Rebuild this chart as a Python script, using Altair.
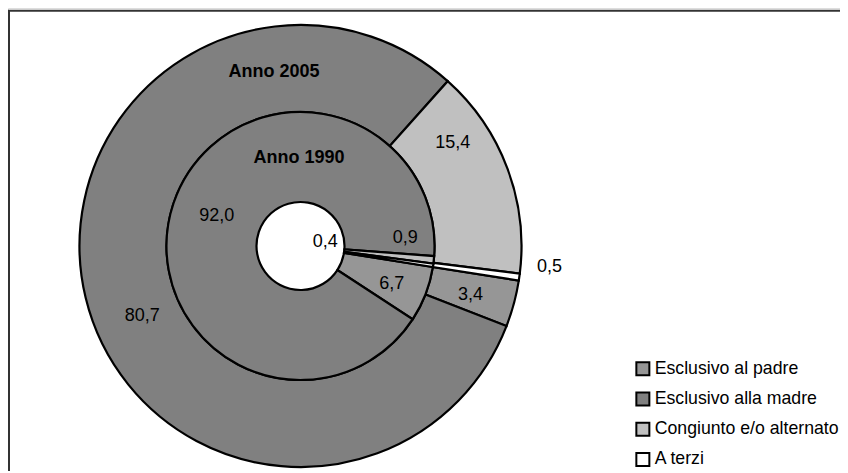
import math
import altair as alt
import pandas as pd

# ---- data ----
categories = ["Esclusivo al padre", "Esclusivo alla madre", "Congiunto e/o alternato", "A terzi"]
values_2005 = [3.4, 80.7, 15.4, 0.5]
values_1990 = [6.7, 92.0, 0.9, 0.4]
labels_2005 = ["3,4", "80,7", "15,4", "0,5"]
labels_1990 = ["6,7", "92,0", "0,9", "0,4"]
ring_titles = ["Anno 2005", "Anno 1990"]

# ---- style / placement ----
colors = ["#969696", "#808080", "#C0C0C0", "#FFFFFF"]
nudge_2005 = [1.0, -10.4, -13.6, -3.3]      # degrees from slice middle
radius_2005 = [177, 173, 184, 250]          # px from centre
nudge_1990 = [1.6, 1.0, -10.3, -17.0]
radius_1990 = [99, 89, 105, 25]

W, H = 832, 463
CX, CY = 292.5, 238
R_HOLE, R_MID, R_OUT = 44, 134, 221
start = math.radians(99)
FONT = "Liberation Sans"

theta_scale = alt.Scale(domain=[0, 100], range=[start, start + 2 * math.pi])


def ring_df(values, labels, nudges, radii):
    df = pd.DataFrame({"cat": categories, "v": values, "label": labels,
                       "order": list(range(len(categories)))})
    cum = df["v"].cumsum()
    df["mid"] = cum - df["v"] / 2 + pd.Series(nudges) / 3.6
    df["r"] = radii
    return df


df05 = ring_df(values_2005, labels_2005, nudge_2005, radius_2005)
df90 = ring_df(values_1990, labels_1990, nudge_1990, radius_1990)

color = alt.Color(
    "cat:N",
    scale=alt.Scale(domain=categories, range=colors),
    legend=alt.Legend(
        title=None, orient="none", legendX=626, legendY=352,
        symbolType="square", symbolSize=169, symbolStrokeColor="black",
        symbolStrokeWidth=2, labelFont=FONT, labelFontSize=17.7,
        labelColor="black", rowPadding=8.2, labelOffset=3, padding=0,
        labelLimit=300,
    ),
)


def ring(df, r_in, r_out, with_legend):
    return alt.Chart(df).mark_arc(
        innerRadius=r_in, outerRadius=r_out, stroke="black", strokeWidth=2.2
    ).encode(
        theta=alt.Theta("v:Q", stack=True, scale=theta_scale),
        color=color if with_legend else alt.Color("cat:N", legend=None),
        order=alt.Order("order:Q"),
        x=alt.value(CX), y=alt.value(CY),
    )


def ring_labels(df):
    return alt.Chart(df).mark_text(
        font=FONT, fontSize=18, color="black", align="center", baseline="middle"
    ).encode(
        theta=alt.Theta("mid:Q", stack=None, scale=theta_scale),
        radius=alt.Radius("r:Q", scale=None),
        text="label:N",
        x=alt.value(CX), y=alt.value(CY),
    )


one = pd.DataFrame({"a": [0]})
frame_top = alt.Chart(one).mark_rule(color="#333333", strokeWidth=2).encode(
    x=alt.value(0), x2=alt.value(W), y=alt.value(2.7))
frame_left = alt.Chart(one).mark_rule(color="#333333", strokeWidth=2).encode(
    x=alt.value(1), y=alt.value(2.7), y2=alt.value(H))

title05 = alt.Chart(pd.DataFrame({"t": [ring_titles[0]]})).mark_text(
    font=FONT, fontSize=18, fontWeight="bold", color="black",
    align="center", baseline="middle"
).encode(text="t:N", x=alt.value(266), y=alt.value(64))
title90 = alt.Chart(pd.DataFrame({"t": [ring_titles[1]]})).mark_text(
    font=FONT, fontSize=18, fontWeight="bold", color="black",
    align="center", baseline="middle"
).encode(text="t:N", x=alt.value(291), y=alt.value(150))

chart = alt.layer(
    ring(df05, R_MID, R_OUT, True),
    ring(df90, R_HOLE, R_MID, False),
    ring_labels(df05),
    ring_labels(df90),
    title05, title90,
    frame_top, frame_left,
).properties(
    width=W, height=H, padding=0,
    autosize=alt.AutoSizeParams(type="none"),
).configure_view(stroke=None).configure(background="white")

chart.save("out.html", embed_options={"renderer": "svg", "actions": False})
